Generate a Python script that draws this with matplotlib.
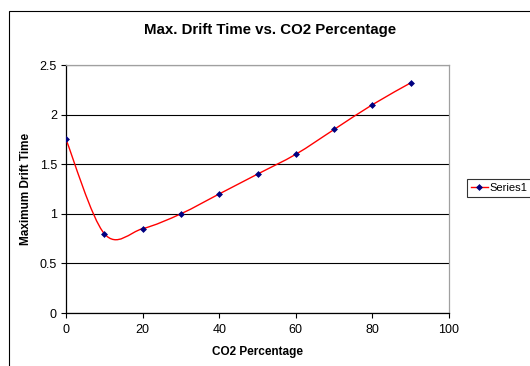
import numpy as np
import matplotlib
matplotlib.use("Agg")
import matplotlib.pyplot as plt
from matplotlib.path import Path
from matplotlib.patches import PathPatch, Rectangle
from matplotlib.lines import Line2D

# data
co2_pct = [0, 10, 20, 30, 40, 50, 60, 70, 80, 90]
drift_time = [1.75, 0.8, 0.85, 1.0, 1.2, 1.4, 1.6, 1.85, 2.1, 2.32]
x_ticks = [0, 20, 40, 60, 80, 100]
y_ticks = [0, 0.5, 1, 1.5, 2, 2.5]
y_tick_labels = ['0', '0.5', '1', '1.5', '2', '2.5']

plt.rcParams['font.family'] = ['Liberation Sans', 'DejaVu Sans']

fig = plt.figure(figsize=(5.3, 3.66), dpi=100)
ax = fig.add_axes([66/530, 1-313/366, (449-66)/530, (313-65)/366])

# Excel-like smoothed line: cubic bezier segments through the points
pts = np.column_stack([co2_pct, drift_time]).astype(float)
n = len(pts)
verts = [pts[0]]
codes = [Path.MOVETO]
for i in range(n-1):
    p_prev = pts[max(i-1, 0)]
    p0 = pts[i]
    p1 = pts[i+1]
    p_next = pts[min(i+2, n-1)]
    c1 = p0 + (p1 - p_prev)/6.0
    c2 = p1 - (p_next - p0)/6.0
    verts += [c1, c2, p1]
    codes += [Path.CURVE4]*3
ax.add_patch(PathPatch(Path(verts, codes), facecolor='none', edgecolor='#ff0000', lw=1.0, zorder=3))
ax.plot(co2_pct, drift_time, linestyle='none', marker='D', markersize=3.0,
        markeredgewidth=0.5, color='#000080', zorder=4)

ax.set_xlim(0, 100)
ax.set_ylim(0, 2.5)
ax.set_xticks(x_ticks)
ax.set_yticks(y_ticks)
ax.set_yticklabels(y_tick_labels)
ax.yaxis.grid(True, color='black', linewidth=0.8)
ax.set_axisbelow(True)
ax.tick_params(direction='out', length=3.6, width=0.8, labelsize=9)
ax.tick_params(axis='x', pad=4)
ax.tick_params(axis='y', pad=3)
ax.spines['left'].set_color('black')
ax.spines['bottom'].set_color('black')
ax.spines['right'].set_color('#a0a0a0')
ax.spines['top'].set_color('#a0a0a0')
for s in ax.spines.values():
    s.set_linewidth(0.9)

ax.set_xlabel('CO2 Percentage', fontsize=8.5, fontweight='bold')
ax.set_ylabel('Maximum Drift Time', fontsize=8.5, fontweight='bold')
ax.xaxis.set_label_coords(0.5, -0.135)
ax.yaxis.set_label_coords(-0.088, 0.5)
fig.text(270/530, 1-30/366, 'Max. Drift Time vs. CO2 Percentage',
         ha='center', va='center', fontsize=10.8, fontweight='bold')

# chart border
fig.patches.append(Rectangle((8.5/530, -0.1), 1.0, 1-11/366+0.1, transform=fig.transFigure,
                             fill=False, edgecolor='black', lw=0.8))

handle = Line2D([], [], color='#ff0000', lw=1.0, marker='D', markersize=3.0,
                markeredgewidth=0.5, markerfacecolor='#000080', markeredgecolor='#000080')
leg = fig.legend([handle], ['Series1'], loc='upper left',
                 bbox_to_anchor=(467/530, 1-179/366), fontsize=8,
                 frameon=True, fancybox=False, handlelength=1.5,
                 borderpad=0.35, handletextpad=0.2, borderaxespad=0)
leg.get_frame().set_edgecolor('black')
leg.get_frame().set_linewidth(0.8)

plt.savefig('out.png', dpi=100)
